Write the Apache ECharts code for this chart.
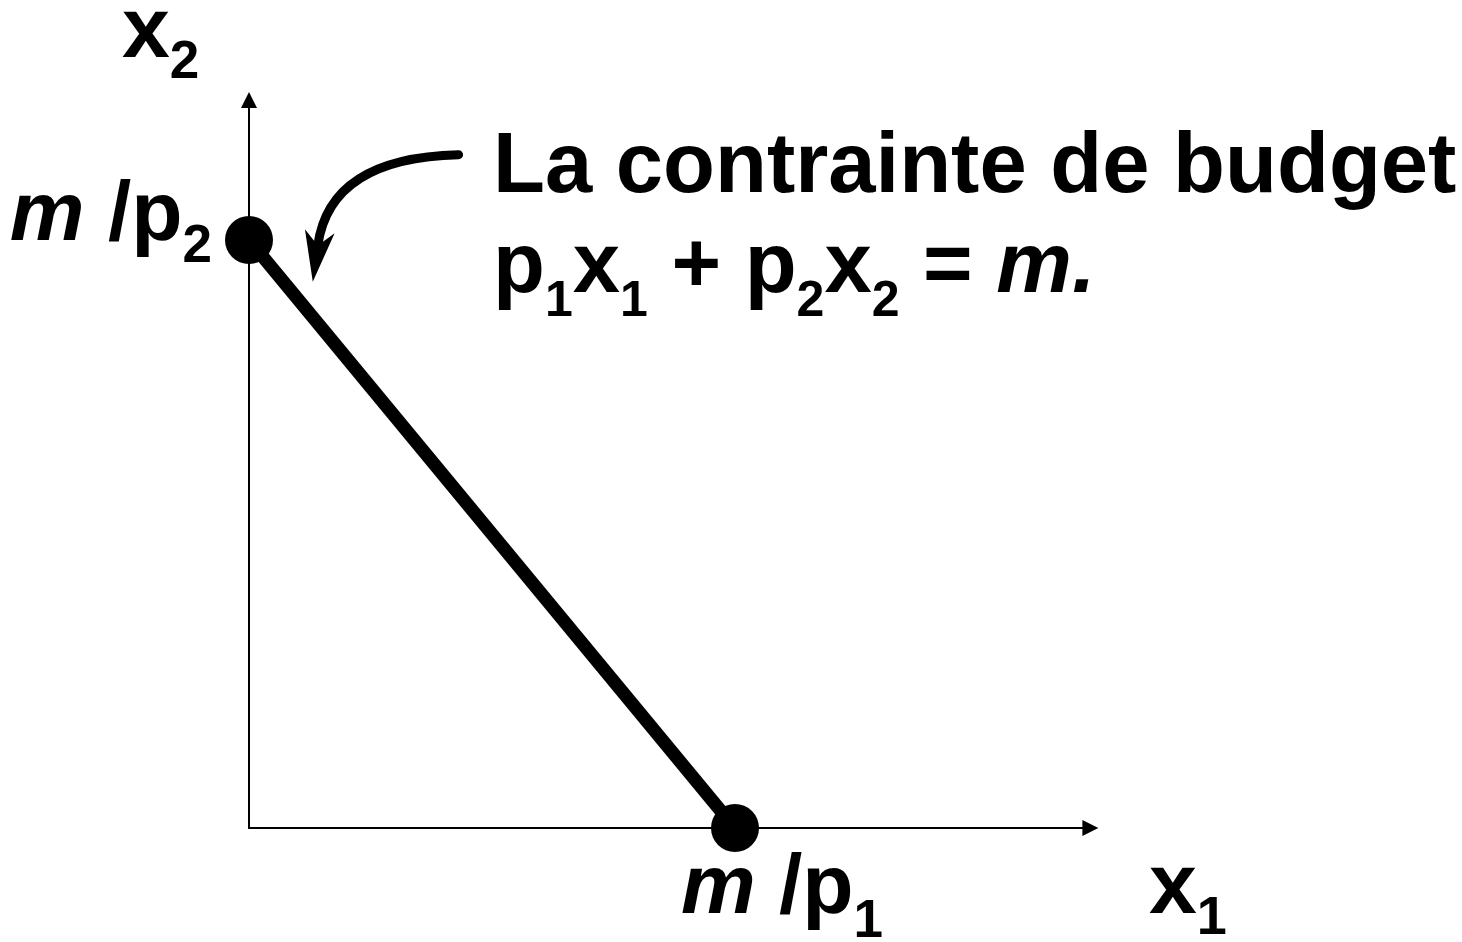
<!DOCTYPE html>
<html>
<head>
<meta charset="utf-8">
<script src="https://cdn.jsdelivr.net/npm/echarts@6/dist/echarts.min.js"></script>
<style>
  html, body { margin: 0; padding: 0; background: #fff; }
  #chart { width: 1462px; height: 942px; }
</style>
</head>
<body>
<div id="chart"></div>
<script>
// droite de budget : m/p2 sur x2, m/p1 sur x1
const budgetLine = [[0, 10], [8, 0]];
const intercepts = [[0, 10], [8, 0]];
const interceptLabels = ['{i|m}{b| /p}{s|2}', '{i|m}{b| /p}{s|1}'];
// flèche courbe : départ, pointe
const pointerArrow = [3.45, 11.45, 1.05, 9.29];

const FONT = 'Liberation Sans';
const xMax = 13.85;
const yMax = 12.38;

let chart = echarts.init(document.getElementById('chart'));

// styles texte (gras, indices plus petits et décalés)
const richBig = (size, sub, pad) => ({
  b: { fontFamily: FONT, fontWeight: 'bold', fontSize: size, lineHeight: 100, color: '#000' },
  i: { fontFamily: FONT, fontWeight: 'bold', fontStyle: 'italic', fontSize: size, lineHeight: 100, color: '#000' },
  s: { fontFamily: FONT, fontWeight: 'bold', fontSize: sub, lineHeight: 20, padding: [pad, 0, 0, 0], color: '#000' }
});

const axisCommon = {
  type: 'value',
  splitLine: { show: false },
  axisTick: { show: false },
  axisLabel: { show: false },
  axisLine: {
    show: true,
    symbol: ['none', 'triangle'],
    symbolSize: [16, 16],
    lineStyle: { color: '#000', width: 2 }
  }
};

// flèche courbe dessinée avec une série custom
function renderArrow(params, api) {
  let s = api.coord([api.value(0), api.value(1)]);
  let t = api.coord([api.value(2), api.value(3)]);
  // direction de la pointe (presque verticale)
  let d = [-0.137, 0.99];
  let nrm = [d[1], -d[0]];
  let len = 51, half = 15;
  let notch = [t[0] - d[0] * len * 0.72, t[1] - d[1] * len * 0.72];
  let b1 = [t[0] - d[0] * len + nrm[0] * half, t[1] - d[1] * len + nrm[1] * half];
  let b2 = [t[0] - d[0] * len - nrm[0] * half, t[1] - d[1] * len - nrm[1] * half];
  return {
    type: 'group',
    children: [
      {
        type: 'bezierCurve',
        shape: {
          x1: s[0], y1: s[1],
          cpx1: s[0] - 85, cpy1: s[1] + 2,
          cpx2: notch[0] - d[0] * 60, cpy2: notch[1] - d[1] * 60,
          x2: notch[0], y2: notch[1]
        },
        style: { stroke: '#000', lineWidth: 9, fill: null, lineCap: 'round' }
      },
      {
        type: 'polygon',
        shape: { points: [t, b1, notch, b2] },
        style: { fill: '#000' }
      }
    ]
  };
}

let option = {
  backgroundColor: '#fff',
  animation: false,
  grid: { left: 249, bottom: 114, width: xMax * 60.75, height: yMax * 58.8 },
  xAxis: Object.assign({}, axisCommon, { min: 0, max: xMax }),
  yAxis: Object.assign({}, axisCommon, { min: 0, max: yMax }),
  graphic: [
    {
      type: 'text', x: 122, y: 33,
      style: { text: '{b|x}{s|2}', rich: richBig(86, 53, 60), align: 'left', verticalAlign: 'middle' }
    },
    {
      type: 'text', x: 1149, y: 889,
      style: { text: '{b|x}{s|1}', rich: richBig(86, 54, 61), align: 'left', verticalAlign: 'middle' }
    },
    {
      type: 'text', x: 493, y: 168.5,
      style: {
        text: 'La contrainte de budget',
        fontFamily: FONT, fontWeight: 'bold', fontSize: 85, fill: '#000',
        align: 'left', verticalAlign: 'middle'
      }
    },
    {
      type: 'text', x: 493, y: 268.5,
      style: {
        text: '{b|p}{s|1}{b|x}{s|1}{b| + p}{s|2}{b|x}{s|2}{b| = }{i|m.}',
        rich: richBig(85, 50, 67),
        align: 'left', verticalAlign: 'middle'
      }
    }
  ],
  series: [
    {
      type: 'line',
      data: budgetLine,
      symbol: 'none',
      lineStyle: { color: '#000', width: 13 },
      z: 3
    },
    {
      type: 'custom',
      coordinateSystem: 'cartesian2d',
      data: [pointerArrow],
      renderItem: renderArrow,
      z: 4
    },
    {
      type: 'scatter',
      data: intercepts.map((p, k) => ({
        value: p,
        label: k === 0
          ? { show: true, position: 'left', distance: 13, offset: [0, -23], formatter: interceptLabels[0], rich: richBig(84, 53, 61) }
          : { show: true, position: 'bottom', distance: 0, offset: [47, -12], formatter: interceptLabels[1], rich: richBig(84, 53, 65) }
      })),
      symbol: 'circle',
      symbolSize: 48,
      itemStyle: { color: '#000', opacity: 1 },
      z: 5
    }
  ]
};

chart.setOption(option);
</script>
</body>
</html>
